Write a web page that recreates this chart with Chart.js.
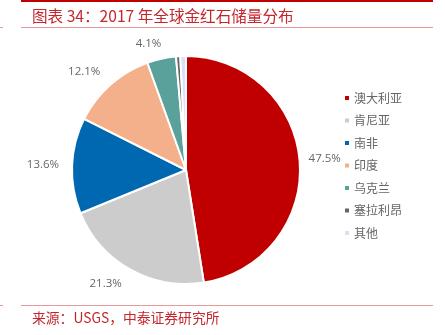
<!DOCTYPE html>
<html><head><meta charset="utf-8">
<script src="https://cdn.jsdelivr.net/npm/chart.js@4/dist/chart.umd.min.js"></script>
<style>html,body{margin:0;padding:0;background:#fff;}#wrap{position:relative;width:445px;height:335px;}</style>
</head><body><div id="wrap"><canvas id="c" width="445" height="335"></canvas></div>
<script>
const titleText = '图表 34：2017 年全球金红石储量分布';
const sourceText = '来源：USGS，中泰证券研究所';
const categories = ['澳大利亚','肯尼亚','南非','印度','乌克兰','塞拉利昂','其他'];
const shares = [47.5, 21.3, 13.6, 12.1, 4.1, 0.6, 0.8];
const labelTexts = ['47.5%','21.3%','13.6%','12.1%','4.1%','',''];
const colors = ['#C00000','#CCCCCC','#0068B1','#F4B08A','#5BA19B','#666666','#D9E2F3'];

const decor = {
  id:'decor',
  beforeDraw(chart){
    const ctx = chart.ctx;
    ctx.save();
    ctx.fillStyle='#fff'; ctx.fillRect(0,0,chart.width,chart.height);
    ctx.fillStyle='#C00000'; ctx.fillRect(21,0,412,2);
    ctx.fillStyle='#E89A9A';
    ctx.fillRect(21,27,412,1); ctx.fillRect(0,27,3,1);
    ctx.fillRect(21,305,412,1); ctx.fillRect(0,305,3,1);
    ctx.fillStyle='#C4262E';
    ctx.font='15.6px "Noto Sans CJK SC"'; ctx.textBaseline='middle'; ctx.textAlign='left';
    ctx.fillText(titleText,32,16);
    ctx.font='13.8px "Noto Sans CJK SC"';
    ctx.fillText(sourceText,32,318);
    ctx.restore();
  },
  afterDraw(chart){
    const ctx = chart.ctx;
    const meta = chart.getDatasetMeta(0);
    ctx.save();
    ctx.font='11.5px "Open Sans"'; ctx.fillStyle='#666666';
    ctx.textAlign='center'; ctx.textBaseline='middle';
    meta.data.forEach((arc,i)=>{
      const t = labelTexts[i]; if(!t) return;
      const p = arc.getProps(['x','y','startAngle','endAngle','outerRadius'],true);
      const a = (p.startAngle+p.endAngle)/2;
      const dx=Math.cos(a), dy=Math.sin(a);
      const g=p.outerRadius+9;
      const w=ctx.measureText(t).width, h=12;
      const cx=p.x+dx*g+Math.max(-1,Math.min(1,dx*4))*w/2 - (dx<-0.3?4:0);
      const cy=p.y+dy*g+Math.max(-1,Math.min(1,dy*4))*h/2;
      ctx.fillText(t,cx,cy);
    });
    ctx.font='12px "Noto Sans CJK SC"'; ctx.textAlign='left';
    categories.forEach((c,i)=>{
      const y=98+i*22.5;
      ctx.fillStyle=colors[i]; ctx.fillRect(345,y-2,4,4);
      ctx.fillStyle='#666666'; ctx.fillText(c,354,y);
    });
    ctx.restore();
  }
};

new Chart(document.getElementById('c'),{
  type:'pie',
  data:{labels:categories,datasets:[{data:shares,backgroundColor:colors,borderColor:'#ffffff',borderWidth:2,hoverOffset:0,offset:0}]},
  options:{
    responsive:false,animation:false,events:[],
    rotation:0,
    layout:{padding:{left:71,top:55,right:144,bottom:50}},
    plugins:{legend:{display:false},tooltip:{enabled:false},title:{display:false}}
  },
  plugins:[decor]
});
</script></body></html>
